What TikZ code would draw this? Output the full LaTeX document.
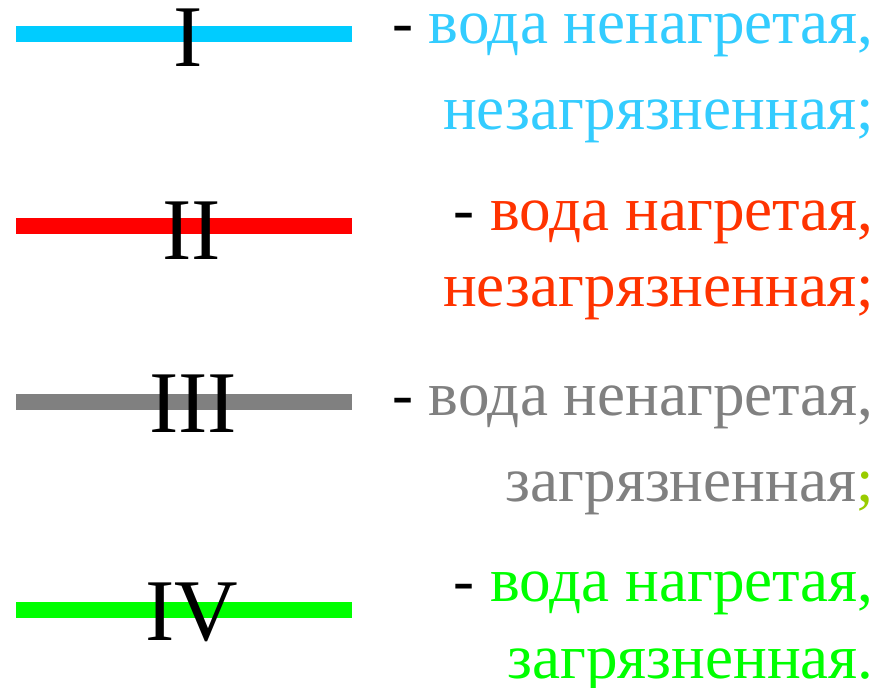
\documentclass[tikz,border=0pt]{standalone}
\usepackage{fontspec}
\setmainfont{Liberation Serif}
\usepackage{tikz}
\definecolor{coldclean}{HTML}{00CCFF}
\definecolor{coldcleantxt}{HTML}{33CCFF}
\definecolor{hotclean}{HTML}{FF0000}
\definecolor{hotcleantxt}{HTML}{FF3300}
\definecolor{colddirty}{HTML}{808080}
\definecolor{semi}{HTML}{99CC00}
\definecolor{hotdirty}{HTML}{00FF00}
\tikzset{
  swatch/.style ={line width=12pt},
  numeral/.style={anchor=base, inner sep=0pt, font=\fontsize{66}{66}\selectfont},
  legtxt/.style ={anchor=base east, inner sep=0pt, font=\fontsize{47.3}{47.3}\selectfont}
}
\begin{document}
\begin{tikzpicture}[x=0.75pt,y=-0.75pt]
\useasboundingbox (0,0) rectangle (895,688);
% I
\coordinate (s1) at (16,34);
\coordinate (e1) at (352,34);
\draw[swatch, coldclean] (s1) -- (e1);
\node[numeral] (n1) at (188.5,66.5) {I};
\node[legtxt] (t1a) at (874,43.3) {- \textcolor{coldcleantxt}{вода ненагретая,}};
\node[legtxt, coldcleantxt] (t1b) at (874,130) {незагрязненная;};
% II
\coordinate (s2) at (16,226);
\coordinate (e2) at (352,226);
\draw[swatch, hotclean] (s2) -- (e2);
\node[numeral] (n2) at (191.5,259) {II};
\node[legtxt] (t2a) at (874,230) {- \textcolor{hotcleantxt}{вода нагретая,}};
\node[legtxt, hotcleantxt] (t2b) at (874,306) {незагрязненная;};
% III
\coordinate (s3) at (16,402);
\coordinate (e3) at (352,402);
\draw[swatch, colddirty] (s3) -- (e3);
\node[numeral] (n3) at (193,432) {III};
\node[legtxt] (t3a) at (874,415) {- \textcolor{colddirty}{вода ненагретая,}};
\node[legtxt, colddirty] (t3b) at (874,501.7) {загрязненная\textcolor{semi}{;}};
% IV
\coordinate (s4) at (16,610);
\coordinate (e4) at (352,610);
\draw[swatch, hotdirty] (s4) -- (e4);
\node[numeral] (n4) at (191.5,640) {IV};
\node[legtxt] (t4a) at (874,601.7) {- \textcolor{hotdirty}{вода нагретая,}};
\node[legtxt, hotdirty] (t4b) at (874,678) {загрязненная.};
\end{tikzpicture}
\end{document}
